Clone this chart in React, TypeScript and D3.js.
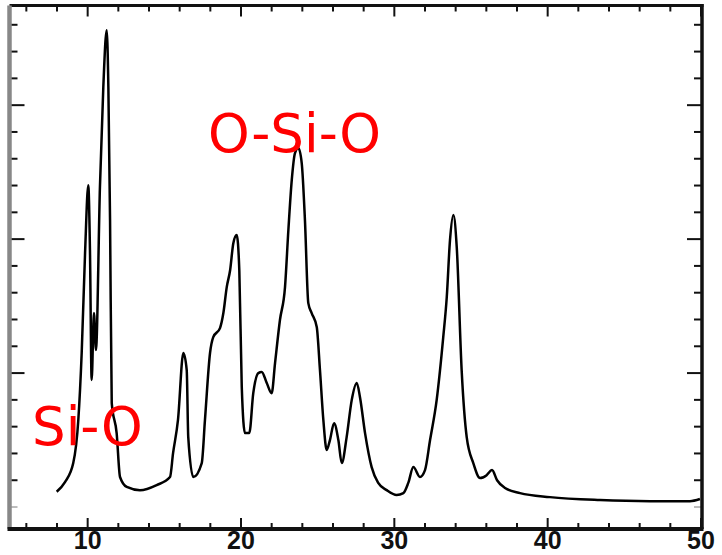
import React from "react";
import * as d3 from "d3";

// Diffraction pattern: 2θ (degrees) and intensity (a.u.)
const twoTheta = [
  7.98, 8.52, 9.06, 9.39, 9.61, 9.83, 10.04, 10.15, 10.26, 10.41, 10.54, 10.8,
  11.02, 11.24, 11.35, 11.46, 11.57, 11.89, 12.11, 12.55, 13.41, 14.5, 15.37,
  15.57, 15.89, 16.24, 16.46, 16.56, 16.89, 17.44, 17.65, 17.98, 18.19, 18.63,
  18.85, 19.07, 19.29, 19.5, 19.72, 19.89, 20.05, 20.26, 20.54, 20.8, 21.13,
  21.35, 21.68, 22.0, 22.22, 22.54, 22.87, 23.09, 23.31, 23.52, 23.74, 23.96,
  24.17, 24.39, 24.61, 24.94, 25.15, 25.37, 25.59, 25.8, 26.07, 26.35, 26.57,
  26.89, 27.22, 27.55, 27.76, 28.09, 28.52, 28.95, 29.5, 30.15, 30.59, 30.91,
  31.24, 31.67, 32.0, 32.33, 32.76, 33.19, 33.42, 33.63, 33.85, 34.07, 34.39,
  34.72, 35.15, 35.59, 36.02, 36.37, 36.7, 37.22, 38.2, 40.15, 43.41, 46.67,
  49.28, 49.93,
];
const intensity = [
  0.57, 0.93, 1.64, 3.25, 5.75, 9.48, 12.01, 9.59, 4.74, 7.24, 5.86, 11.94,
  15.67, 17.8, 15.67, 10.7, 3.88, 2.76, 1.12, 0.75, 0.63, 0.82, 1.12, 2.01,
  3.25, 5.75, 5.11, 2.61, 1.12, 1.64, 3.25, 5.75, 6.34, 6.68, 7.24, 8.21, 8.84,
  9.85, 10.15, 8.84, 4.48, 2.76, 2.76, 4.25, 5.0, 5.04, 4.63, 4.25, 5.37, 6.98,
  8.21, 10.34, 12.2, 13.21, 13.4, 12.84, 10.71, 7.61, 7.24, 6.72, 5.11, 3.25,
  2.13, 2.5, 3.13, 2.5, 1.64, 2.61, 3.99, 4.63, 4.1, 2.76, 1.49, 0.9, 0.63,
  0.45, 0.52, 0.9, 1.49, 1.12, 1.38, 2.5, 3.99, 6.34, 7.84, 9.96, 10.9, 9.7,
  5.11, 2.61, 1.64, 1.08, 1.19, 1.38, 1.0, 0.71, 0.52, 0.37, 0.26, 0.22, 0.22,
  0.3,
];

// Axis ticks
const xMinorTicks = d3.range(6, 51, 2);
const xMajorTicks = [10, 20, 30, 40, 50];
const xTickLabels = ["10", "20", "30", "40", "50"];
const yMinorTicks = d3.range(0, 19, 1);
const yMajorTicks = [5, 10, 15];

// Band annotations, placed in data coordinates
const bandLabels = ["Si-O", "O-Si-O"];
const bandX = [6.37, 17.85];
const bandY = [2.31, 13.25];

const W = 722;
const H = 555;

export default function App() {
  const x = d3.scaleLinear().domain([5, 50]).range([11, 701]);
  const y = d3.scaleLinear().domain([-0.82, 18.72]).range([529, 5.5]);

  const pts: [number, number][] = twoTheta.map((t, i) => [t, intensity[i]]);
  const line = d3
    .line<[number, number]>()
    .x((d) => x(d[0]))
    .y((d) => y(d[1]))
    .curve(d3.curveMonotoneX);

  const left = x(5) - 1.5;
  const right = x(50) + 1;
  const top = y(18.72);
  const bottom = y(-0.82);

  return (
    <svg
      width={W}
      height={H}
      style={{ position: "absolute", left: 0, top: 0, background: "#fff" }}
    >
      <rect width={W} height={H} fill="#fff" />
      {/* top/bottom ticks */}
      {xMinorTicks.map((t) => {
        const major = xMajorTicks.includes(t);
        const len = major ? 11 : 6;
        return (
          <g key={"xt" + t}>
            <line x1={x(t)} x2={x(t)} y1={top} y2={top + len} stroke="#111" strokeWidth={2} />
            <line x1={x(t)} x2={x(t)} y1={bottom} y2={bottom - len} stroke="#111" strokeWidth={2} />
          </g>
        );
      })}
      {/* left/right ticks */}
      {yMinorTicks.map((t) => {
        const major = yMajorTicks.includes(t);
        const len = major ? 15 : 8;
        const col = t === 0 ? "#bbb" : "#111";
        return (
          <g key={"yt" + t}>
            <line x1={left} x2={left + len} y1={y(t)} y2={y(t)} stroke={col} strokeWidth={2} />
            <line x1={right} x2={right - len} y1={y(t)} y2={y(t)} stroke={col} strokeWidth={2} />
          </g>
        );
      })}
      {/* frame */}
      <line x1={left} x2={right + 1.5} y1={top} y2={top} stroke="#111" strokeWidth={3} />
      <line x1={right} x2={right} y1={top - 1.5} y2={bottom} stroke="#111" strokeWidth={3.5} />
      <line x1={left} x2={left} y1={top} y2={bottom} stroke="#888" strokeWidth={4.5} />
      <line x1={left - 2} x2={right + 1.5} y1={bottom} y2={bottom} stroke="#111" strokeWidth={4} />

      {/* spectrum */}
      <path d={line(pts) ?? ""} fill="none" stroke="#000" strokeWidth={2.5} strokeLinejoin="round" />

      {/* x tick labels */}
      {xMajorTicks.map((t, i) => (
        <text
          key={"xl" + t}
          x={x(t)}
          y={549}
          textAnchor="middle"
          fontFamily="Liberation Sans, Arial, sans-serif"
          fontWeight="bold"
          fontSize={25}
          fill="#111"
        >
          {xTickLabels[i]}
        </text>
      ))}

      {/* band annotations */}
      {bandLabels.map((s, i) => (
        <text
          key={s}
          x={x(bandX[i])}
          y={y(bandY[i])}
          fontFamily="DejaVu Sans, sans-serif"
          fontSize={53}
          fill="#ff0000"
        >
          {s}
        </text>
      ))}
    </svg>
  );
}
